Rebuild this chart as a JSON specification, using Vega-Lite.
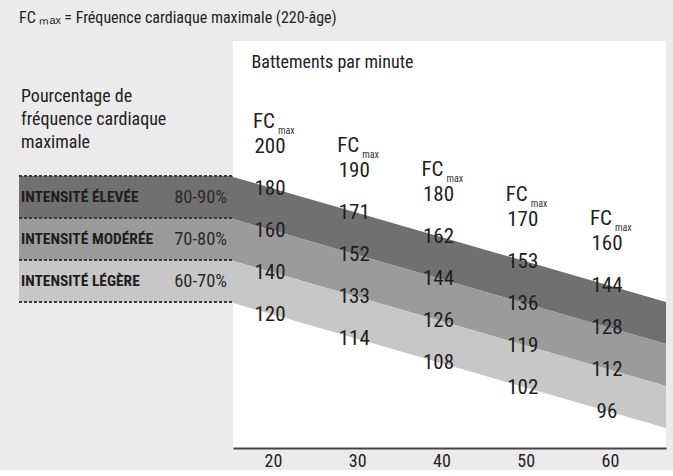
{
  "$schema": "https://vega.github.io/schema/vega-lite/v6.json",
  "background": "#ebebeb",
  "padding": {"left": 18, "top": 10, "right": 8, "bottom": 0},
  "title": {
    "text": "FC ₘₐₓ = Fréquence cardiaque maximale (220-âge)",
    "anchor": "start",
    "frame": "group",
    "fontSize": 16,
    "fontWeight": "normal",
    "color": "#222222",
    "offset": 15
  },
  "spacing": 0,
  "bounds": "flush",
  "datasets": {
    "zones": [
      {"band": "80-90%", "name": "INTENSITÉ ÉLEVÉE", "lo": 80, "hi": 90},
      {"band": "70-80%", "name": "INTENSITÉ MODÉRÉE", "lo": 70, "hi": 80},
      {"band": "60-70%", "name": "INTENSITÉ LÉGÈRE", "lo": 60, "hi": 70}
    ],
    "bandlines": [
      {"band": "80-90%", "age": 10},
      {"band": "80-90%", "age": 72},
      {"band": "70-80%", "age": 10},
      {"band": "70-80%", "age": 72},
      {"band": "60-70%", "age": 10},
      {"band": "60-70%", "age": 72}
    ],
    "levels": [{"pct": 60}, {"pct": 70}, {"pct": 80}, {"pct": 90}],
    "labels": [
      {"age": 20, "pct": 100, "bpm": 200}, {"age": 20, "pct": 90, "bpm": 180}, {"age": 20, "pct": 80, "bpm": 160}, {"age": 20, "pct": 70, "bpm": 140}, {"age": 20, "pct": 60, "bpm": 120},
      {"age": 30, "pct": 100, "bpm": 190}, {"age": 30, "pct": 90, "bpm": 171}, {"age": 30, "pct": 80, "bpm": 152}, {"age": 30, "pct": 70, "bpm": 133}, {"age": 30, "pct": 60, "bpm": 114},
      {"age": 40, "pct": 100, "bpm": 180}, {"age": 40, "pct": 90, "bpm": 162}, {"age": 40, "pct": 80, "bpm": 144}, {"age": 40, "pct": 70, "bpm": 126}, {"age": 40, "pct": 60, "bpm": 108},
      {"age": 50, "pct": 100, "bpm": 170}, {"age": 50, "pct": 90, "bpm": 153}, {"age": 50, "pct": 80, "bpm": 136}, {"age": 50, "pct": 70, "bpm": 119}, {"age": 50, "pct": 60, "bpm": 102},
      {"age": 60, "pct": 100, "bpm": 160}, {"age": 60, "pct": 90, "bpm": 144}, {"age": 60, "pct": 80, "bpm": 128}, {"age": 60, "pct": 70, "bpm": 112}, {"age": 60, "pct": 60, "bpm": 96}
    ]
  },
  "resolve": {"scale": {"color": "shared"}},
  "hconcat": [
    {
      "width": 214,
      "height": 407,
      "view": {"stroke": null},
      "layer": [
        {
          "data": {"name": "zones"},
          "mark": {"type": "rect"},
          "encoding": {
            "x": {"datum": 0, "type": "quantitative", "scale": {"domain": [0, 1], "nice": false, "zero": false}, "axis": null},
            "x2": {"datum": 1},
            "y": {"field": "hi", "type": "quantitative", "scale": {"domain": [25.24, 122.14], "nice": false, "zero": false}, "axis": null},
            "y2": {"field": "lo"},
            "color": {"field": "band", "type": "nominal", "scale": {"domain": ["80-90%", "70-80%", "60-70%"], "range": ["#707070", "#9b9b9b", "#c7c7c7"]}, "legend": null}
          }
        },
        {
          "data": {"name": "levels"},
          "mark": {"type": "rule", "strokeDash": [3, 2], "strokeWidth": 2, "color": "#3a3a3a"},
          "encoding": {
            "x": {"datum": 0, "type": "quantitative"},
            "x2": {"datum": 1},
            "y": {"field": "pct", "type": "quantitative"}
          }
        },
        {
          "data": {"name": "zones"},
          "mark": {"type": "text", "align": "left", "baseline": "middle", "dx": 2, "dy": 21, "fontSize": 15.5, "fontWeight": "bold", "color": "#1e1e1e"},
          "encoding": {
            "x": {"datum": 0, "type": "quantitative"},
            "y": {"field": "hi", "type": "quantitative"},
            "text": {"field": "name"}
          }
        },
        {
          "data": {"name": "zones"},
          "mark": {"type": "text", "align": "right", "baseline": "middle", "dx": -6, "dy": 21, "fontSize": 18.5, "color": "#2a2a2a"},
          "encoding": {
            "x": {"datum": 1, "type": "quantitative"},
            "y": {"field": "hi", "type": "quantitative"},
            "text": {"field": "band"}
          }
        },
        {
          "data": {"values": [{"t": "Pourcentage de\nfréquence cardiaque\nmaximale"}]},
          "mark": {"type": "text", "align": "left", "baseline": "top", "dx": 2, "fontSize": 18, "lineHeight": 23, "lineBreak": "\n", "color": "#222222"},
          "encoding": {
            "x": {"datum": 0, "type": "quantitative"},
            "y": {"datum": 111, "type": "quantitative"},
            "text": {"field": "t"}
          }
        }
      ]
    },
    {
      "width": 433,
      "height": 407,
      "view": {"fill": "white", "stroke": null},
      "resolve": {"scale": {"y": "independent"}, "axis": {"y": "independent"}},
      "layer": [
        {
          "data": {"name": "bandlines"},
          "mark": {"type": "line", "clip": true, "strokeWidth": 40.4, "strokeCap": "butt"},
          "encoding": {
            "x": {"field": "age", "type": "quantitative", "scale": {"domain": [15.25, 66.65], "nice": false, "zero": false},
              "axis": {"values": [20, 30, 40, 50, 60], "ticks": false, "grid": false, "domainColor": "#444444", "domainWidth": 2, "labelFontSize": 18, "labelColor": "#222222", "labelPadding": 4, "title": null}},
            "y": {"field": "band", "type": "nominal", "scale": {"type": "point", "domain": ["80-90%", "70-80%", "60-70%"], "range": [157, 241], "padding": 0}, "axis": null},
            "yOffset": {"field": "age", "type": "quantitative", "scale": {"domain": [15.25, 66.65], "range": [0, 125]}},
            "color": {"field": "band", "type": "nominal", "legend": null}
          }
        },
        {
          "mark": {"type": "rule", "color": "#444444", "strokeWidth": 2},
          "encoding": {
            "x": {"datum": 15.25, "type": "quantitative"}
          }
        },
        {
          "data": {"name": "labels"},
          "mark": {"type": "text", "align": "center", "baseline": "middle", "dx": -3, "fontSize": 21, "color": "#1e1e1e"},
          "encoding": {
            "x": {"field": "age", "type": "quantitative"},
            "y": {"field": "pct", "type": "ordinal", "scale": {"type": "point", "domain": [100, 90, 80, 70, 60], "range": [94, 262], "padding": 0},
              "axis": {"labels": false, "ticks": false, "grid": false, "domain": false, "title": "Battements par minute", "titleAngle": 0, "titleAlign": "left", "titleBaseline": "top", "titleX": 18, "titleY": 12, "titleFontSize": 18, "titleFontWeight": "normal", "titleColor": "#222222"}},
            "yOffset": {"field": "age", "type": "quantitative", "scale": {"domain": [15.25, 66.65], "range": [0, 125]}},
            "text": {"field": "bpm", "type": "quantitative"}
          }
        },
        {
          "data": {"name": "labels"},
          "transform": [{"filter": "datum.pct == 100"}],
          "mark": {"type": "text", "align": "left", "baseline": "middle", "dx": -20, "dy": -25, "fontSize": 21, "color": "#1e1e1e"},
          "encoding": {
            "x": {"field": "age", "type": "quantitative"},
            "y": {"field": "pct", "type": "ordinal", "scale": {"type": "point", "domain": [100, 90, 80, 70, 60], "range": [94, 262], "padding": 0}, "axis": null},
            "yOffset": {"field": "age", "type": "quantitative", "scale": {"domain": [15.25, 66.65], "range": [0, 125]}},
            "text": {"value": "FC"}
          }
        },
        {
          "data": {"name": "labels"},
          "transform": [{"filter": "datum.pct == 100"}],
          "mark": {"type": "text", "align": "left", "baseline": "middle", "dx": 5, "dy": -16, "fontSize": 10, "color": "#333333"},
          "encoding": {
            "x": {"field": "age", "type": "quantitative"},
            "y": {"field": "pct", "type": "ordinal", "scale": {"type": "point", "domain": [100, 90, 80, 70, 60], "range": [94, 262], "padding": 0}, "axis": null},
            "yOffset": {"field": "age", "type": "quantitative", "scale": {"domain": [15.25, 66.65], "range": [0, 125]}},
            "text": {"value": "max"}
          }
        }
      ]
    }
  ],
  "config": {
    "font": "Roboto Condensed, Liberation Sans Narrow, Roboto, sans-serif",
    "view": {"stroke": null},
    "axis": {"labelFont": "Roboto Condensed, Liberation Sans Narrow, Roboto, sans-serif", "titleFont": "Roboto Condensed, Liberation Sans Narrow, Roboto, sans-serif"},
    "title": {"font": "Roboto Condensed, Liberation Sans Narrow, Roboto, sans-serif"}
  }
}
